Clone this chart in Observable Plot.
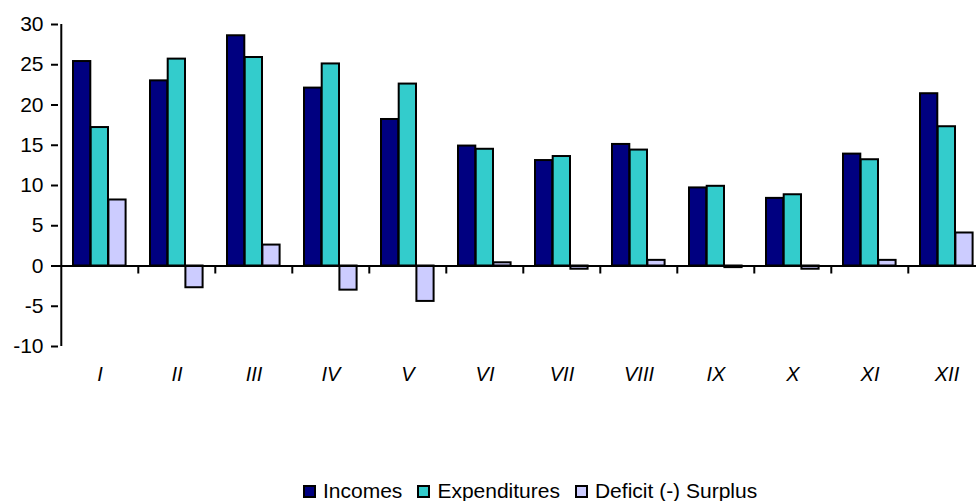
<!DOCTYPE html>
<html><head><meta charset="utf-8">
<script src="https://cdn.jsdelivr.net/npm/d3@7"></script>
<script src="https://cdn.jsdelivr.net/npm/@observablehq/plot@0.6"></script>
<style>
body{margin:0;background:#fff;font-family:"Liberation Sans",Arial,sans-serif;}
#chart svg{display:block;}
#legend{display:flex;justify-content:flex-start;align-items:center;height:20px;font-size:21px;line-height:20px;color:#000;padding-left:303px;}
.item{display:flex;align-items:center;margin-right:15px;}
.sw{width:9px;height:9px;border:2px solid #000;margin-right:7px;}
</style></head><body>
<div id="chart"></div>
<div id="legend"></div>
<script>
const months = ["I","II","III","IV","V","VI","VII","VIII","IX","X","XI","XII"];
const incomes = [25.4, 23.0, 28.6, 22.1, 18.2, 14.9, 13.1, 15.1, 9.7, 8.4, 13.9, 21.4];
const expenditures = [17.2, 25.7, 25.9, 25.1, 22.6, 14.5, 13.6, 14.4, 9.9, 8.85, 13.2, 17.3];
const balance = [8.2, -2.7, 2.6, -3.0, -4.4, 0.4, -0.4, 0.7, -0.2, -0.4, 0.7, 4.1];
const seriesNames = ["Incomes", "Expenditures", "Deficit (-) Surplus"];
const seriesColors = ["#000080", "#33CCCC", "#CCCCFF"];
const yTicks = [-10, -5, 0, 5, 10, 15, 20, 25, 30];

const seriesValues = [incomes, expenditures, balance];
const insets = [[12, 47.7], [29.7, 30], [47.4, 12.4]];
const bandStep = (976 + 11 - 58) / months.length;

const barMarks = seriesValues.map((vals, s) =>
  Plot.barY(months.map((m, i) => ({month: m, value: vals[i]})), {
    x: "month", y: "value",
    fill: seriesColors[s], stroke: "#000", strokeWidth: 2,
    insetLeft: insets[s][0], insetRight: insets[s][1]
  })
);

const chart = Plot.plot({
  width: 976,
  height: 481,
  marginLeft: 58,
  marginRight: -11,
  marginTop: 24,
  marginBottom: 135,
  style: {fontFamily: '"Liberation Sans", Arial, sans-serif', fontSize: "21px", color: "#000", background: "#fff"},
  x: {domain: months, padding: 0},
  y: {domain: [-10, 30]},
  marks: [
    ...barMarks,
    Plot.axisX({label: null, tickSize: 0, tickPadding: 20, fontStyle: "italic", fontSize: 20}),
    Plot.axisY({ticks: yTicks, label: null, tickSize: 7, tickPadding: 8, strokeWidth: 2, tickFormat: d => String(d)}),
    Plot.ruleX([months[0]], {y1: -10, y2: 30, dx: -bandStep / 2, stroke: "#000", strokeWidth: 2}),
    Plot.ruleY([0], {stroke: "#000", strokeWidth: 2}),
    Plot.ruleX(months.slice(1), {x: d => d, y1: 0, y2: 0, insetBottom: -8, dx: -bandStep / 2, stroke: "#000", strokeWidth: 2})
  ]
});
document.getElementById("chart").appendChild(chart);

const legend = d3.select("#legend");
seriesNames.forEach((name, s) => {
  const it = legend.append("div").attr("class", "item");
  it.append("div").attr("class", "sw").style("background", seriesColors[s]);
  it.append("span").text(name);
});
</script>
</body></html>
